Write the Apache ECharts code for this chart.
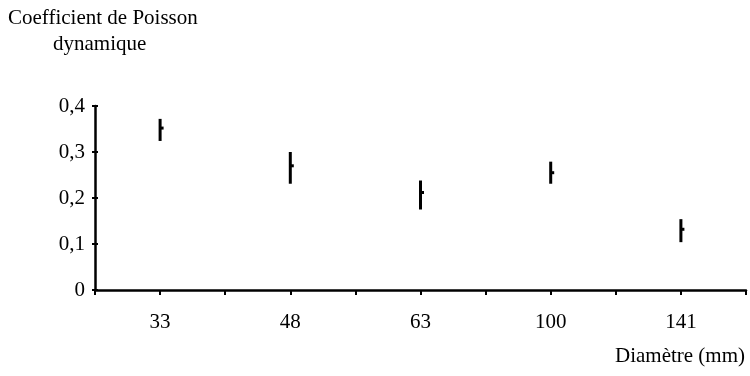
<!DOCTYPE html>
<html>
<head>
<meta charset="utf-8">
<script src="https://cdn.jsdelivr.net/npm/echarts@6/dist/echarts.min.js"></script>
<style>
  html, body { margin: 0; padding: 0; background: #fff; }
  #chart { width: 750px; height: 376px; }
</style>
</head>
<body>
<div id="chart"></div>
<script>
// Diameters of the specimens (mm)
var categories = ['33', '48', '63', '100', '141'];
// Dynamic Poisson's ratio: lower bound, upper bound, mean for each diameter
var lowValues  = [0.324, 0.231, 0.175, 0.231, 0.104];
var highValues = [0.372, 0.300, 0.238, 0.279, 0.154];
var meanValues = [0.352, 0.270, 0.212, 0.255, 0.132];
// Y axis tick values
var yTicks = [0, 0.1, 0.2, 0.3, 0.4];

var FONT = '"Liberation Serif", "DejaVu Serif", serif';

var rangeData = categories.map(function (c, i) {
  return [i, lowValues[i], highValues[i], meanValues[i]];
});

var chart = echarts.init(document.getElementById('chart'), null, { renderer: 'canvas' });

chart.setOption({
  backgroundColor: '#ffffff',
  animation: false,
  grid: { left: 95, right: 4, top: 106, bottom: 86, containLabel: false },
  graphic: [
    {
      type: 'text', left: 8, top: 8,
      style: { text: 'Coefficient de Poisson', font: '21px ' + FONT, fill: '#000' }
    },
    {
      type: 'text', left: 53, top: 34,
      style: { text: 'dynamique', font: '21px ' + FONT, fill: '#000' }
    },
    {
      type: 'text', right: 5, top: 346,
      style: { text: 'Diamètre (mm)', font: '21px ' + FONT, fill: '#000' }
    }
  ],
  xAxis: [
    {
      type: 'category',
      data: categories,
      boundaryGap: true,
      axisLine: { show: true, lineStyle: { color: '#000', width: 2.5 } },
      axisTick: { show: true, length: 5, lineStyle: { color: '#000', width: 2 } },
      axisLabel: { color: '#000', fontFamily: FONT, fontSize: 21, margin: 22 },
      splitLine: { show: false }
    },
    {
      type: 'category',
      data: categories,
      boundaryGap: true,
      position: 'bottom',
      axisLine: { show: false },
      axisTick: { show: true, alignWithLabel: true, length: 5, lineStyle: { color: '#000', width: 2 } },
      axisLabel: { show: false },
      splitLine: { show: false }
    }
  ],
  yAxis: [
    {
      type: 'value',
      min: yTicks[0],
      max: yTicks[yTicks.length - 1],
      interval: 0.1,
      axisLine: { show: true, lineStyle: { color: '#000', width: 2.5 } },
      axisTick: { show: true, length: 3, lineStyle: { color: '#000', width: 2 } },
      axisLabel: {
        color: '#000', fontFamily: FONT, fontSize: 21, margin: 10,
        formatter: function (v) { return v === 0 ? '0' : v.toFixed(1).replace('.', ','); }
      },
      splitLine: { show: false }
    },
    {
      type: 'value',
      position: 'left',
      min: yTicks[0],
      max: yTicks[yTicks.length - 1],
      interval: 0.1,
      axisLine: { show: false },
      axisTick: { show: true, inside: true, length: 3, lineStyle: { color: '#000', width: 2 } },
      axisLabel: { show: false },
      splitLine: { show: false }
    }
  ],
  series: [
    {
      type: 'custom',
      xAxisIndex: 0,
      yAxisIndex: 0,
      data: rangeData,
      renderItem: function (params, api) {
        var x = api.value(0);
        var lo = api.coord([x, api.value(1)]);
        var hi = api.coord([x, api.value(2)]);
        var mid = api.coord([x, api.value(3)]);
        return {
          type: 'group',
          children: [
            {
              type: 'line',
              shape: { x1: lo[0], y1: lo[1], x2: hi[0], y2: hi[1] },
              style: { stroke: '#000', lineWidth: 3 }
            },
            {
              type: 'rect',
              shape: { x: mid[0], y: mid[1] - 1.5, width: 3.5, height: 3 },
              style: { fill: '#000' }
            }
          ]
        };
      }
    }
  ]
});
</script>
</body>
</html>
